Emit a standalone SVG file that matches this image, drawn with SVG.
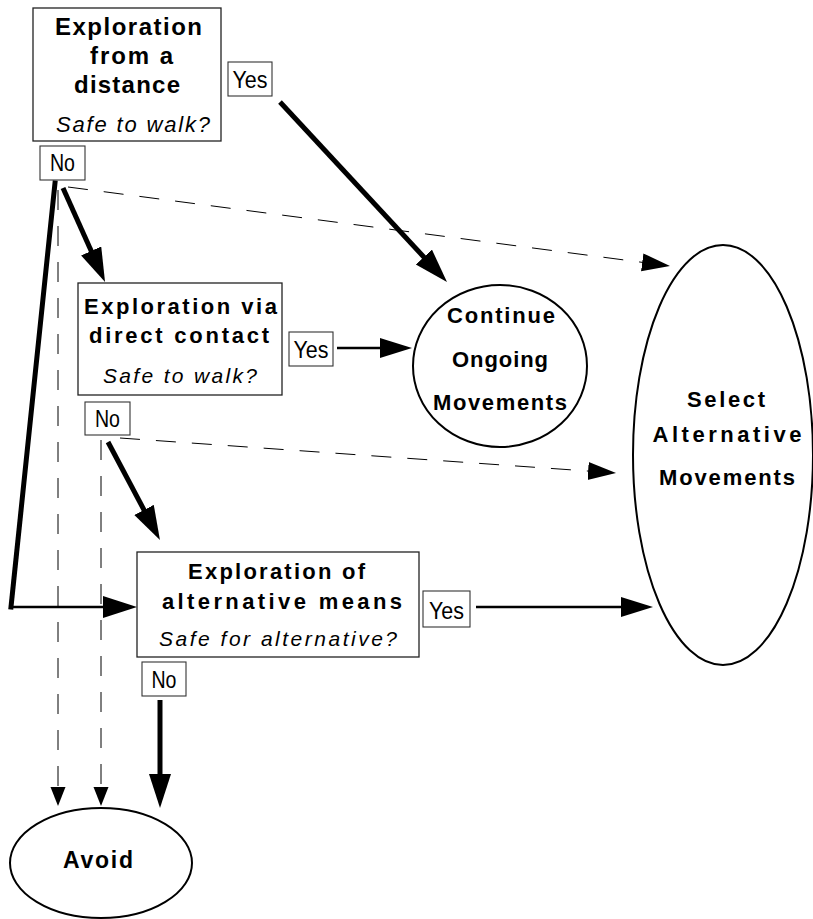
<svg xmlns="http://www.w3.org/2000/svg" width="813" height="919" viewBox="0 0 813 919">
<style>
.box{fill:#fff;stroke:#222;stroke-width:1.3}
.lbl{fill:#fff;stroke:#333;stroke-width:1.1}
.ell{fill:#fff;stroke:#000;stroke-width:2}
.h{font-family:"Liberation Sans",Arial,sans-serif;font-weight:bold;fill:#000;text-anchor:middle}
.q{font-family:"Liberation Sans",Arial,sans-serif;font-style:italic;fill:#000;text-anchor:middle}
.yn{font-family:"Liberation Sans",Arial,sans-serif;font-size:23px;fill:#000;text-anchor:middle}
.thick{fill:none;stroke:#000;stroke-width:5}
.med{fill:none;stroke:#000;stroke-width:2.6}
.dash{fill:none;stroke:#000;stroke-width:1;stroke-dasharray:20 16}
</style>
<defs>
<marker id="hA" markerUnits="userSpaceOnUse" markerWidth="36" markerHeight="24" refX="4" refY="11" orient="auto"><path d="M0,0 L34,11 L0,22 Z" fill="#000"/></marker>
<marker id="hB" markerUnits="userSpaceOnUse" markerWidth="34" markerHeight="22" refX="4" refY="10" orient="auto"><path d="M0,0 L32,10 L0,20 Z" fill="#000"/></marker>
<marker id="hC" markerUnits="userSpaceOnUse" markerWidth="30" markerHeight="20" refX="2" refY="9" orient="auto"><path d="M0,0 L28,9 L0,18 Z" fill="#000"/></marker>
<marker id="hD" markerUnits="userSpaceOnUse" markerWidth="21" markerHeight="17" refX="2" refY="7.5" orient="auto"><path d="M0,0 L19,7.5 L0,15 Z" fill="#000"/></marker>
</defs>

<g id="connectors">
<path class="thick" d="M280,102 L426.6,260" marker-end="url(#hA)"/>
<path class="med" d="M337,348 L384,348" marker-end="url(#hB)"/>
<path class="med" d="M476,607 L625,607" marker-end="url(#hB)"/>
<path class="dash" d="M68,187 L644.2,262.6" marker-end="url(#hC)"/>
<path class="dash" d="M120,438 L590.1,471.2" marker-end="url(#hC)"/>
<path class="dash" d="M58,190 L58,789" marker-end="url(#hD)"/>
<path class="dash" d="M101,440 L101,789" marker-end="url(#hD)"/>
<path class="thick" d="M63,188 L92.8,254.6" marker-end="url(#hA)"/>
<path class="thick" d="M55,183 L11,607" stroke-linecap="square"/>
<path class="med" stroke-width="3" d="M11,607 L107,607" marker-end="url(#hA)"/>
<path class="thick" d="M108,442 L145.9,513.5" marker-end="url(#hA)"/>
<path class="thick" d="M160,700 L160,778" marker-end="url(#hA)"/>
</g>

<g id="node-distance">
<rect class="box" x="33" y="8" width="188" height="133"/>
<text class="h" font-size="24" x="128.5" y="35" textLength="147" lengthAdjust="spacing">Exploration</text>
<text class="h" font-size="24" x="131.5" y="64" textLength="83" lengthAdjust="spacing">from a</text>
<text class="h" font-size="24" x="127" y="93" textLength="106" lengthAdjust="spacing">distance</text>
<text class="q" font-size="22" x="133" y="132" textLength="154" lengthAdjust="spacing">Safe to walk?</text>
</g>
<g id="yes-1"><rect class="lbl" x="228" y="62" width="44" height="34"/><text class="yn" x="250" y="88" textLength="35" lengthAdjust="spacingAndGlyphs">Yes</text></g>
<g id="no-1"><rect class="lbl" x="40" y="146" width="45" height="34"/><text class="yn" x="62.5" y="171" textLength="25" lengthAdjust="spacingAndGlyphs">No</text></g>

<g id="node-contact">
<rect class="box" x="78" y="283" width="204" height="112"/>
<text class="h" font-size="22" x="180.5" y="314" textLength="193" lengthAdjust="spacing">Exploration via</text>
<text class="h" font-size="22" x="179" y="343" textLength="180" lengthAdjust="spacing">direct contact</text>
<text class="q" font-size="21" x="180" y="383" textLength="154" lengthAdjust="spacing">Safe to walk?</text>
</g>
<g id="yes-2"><rect class="lbl" x="289" y="332" width="44" height="34"/><text class="yn" x="311" y="358" textLength="35" lengthAdjust="spacingAndGlyphs">Yes</text></g>
<g id="no-2"><rect class="lbl" x="85" y="402" width="45" height="33"/><text class="yn" x="107.5" y="427" textLength="25" lengthAdjust="spacingAndGlyphs">No</text></g>

<g id="node-alternative">
<rect class="box" x="137" y="552" width="282" height="105"/>
<text class="h" font-size="22" x="276.5" y="579" textLength="177" lengthAdjust="spacing">Exploration of</text>
<text class="h" font-size="22" x="282" y="609" textLength="240" lengthAdjust="spacing">alternative means</text>
<text class="q" font-size="21" x="278" y="646" textLength="238" lengthAdjust="spacing">Safe for alternative?</text>
</g>
<g id="yes-3"><rect class="lbl" x="423" y="591" width="47" height="36"/><text class="yn" x="446.5" y="619" textLength="35" lengthAdjust="spacingAndGlyphs">Yes</text></g>
<g id="no-3"><rect class="lbl" x="142" y="662" width="44" height="34"/><text class="yn" x="164" y="688" textLength="25" lengthAdjust="spacingAndGlyphs">No</text></g>

<g id="node-continue">
<ellipse class="ell" cx="500" cy="366" rx="87" ry="81"/>
<text class="h" font-size="22" x="501" y="323" textLength="108" lengthAdjust="spacing">Continue</text>
<text class="h" font-size="22" x="500" y="367" textLength="96" lengthAdjust="spacing">Ongoing</text>
<text class="h" font-size="22" x="500" y="410" textLength="134" lengthAdjust="spacing">Movements</text>
</g>

<g id="node-select">
<ellipse class="ell" cx="723" cy="455" rx="90" ry="210"/>
<text class="h" font-size="22" x="726" y="407" textLength="78" lengthAdjust="spacing">Select</text>
<text class="h" font-size="22" x="727" y="442" textLength="149" lengthAdjust="spacing">Alternative</text>
<text class="h" font-size="22" x="727" y="485" textLength="136" lengthAdjust="spacing">Movements</text>
</g>

<g id="node-avoid">
<ellipse class="ell" cx="101" cy="863" rx="91" ry="55"/>
<text class="h" font-size="23" x="98" y="868" textLength="70" lengthAdjust="spacing">Avoid</text>
</g>
</svg>
